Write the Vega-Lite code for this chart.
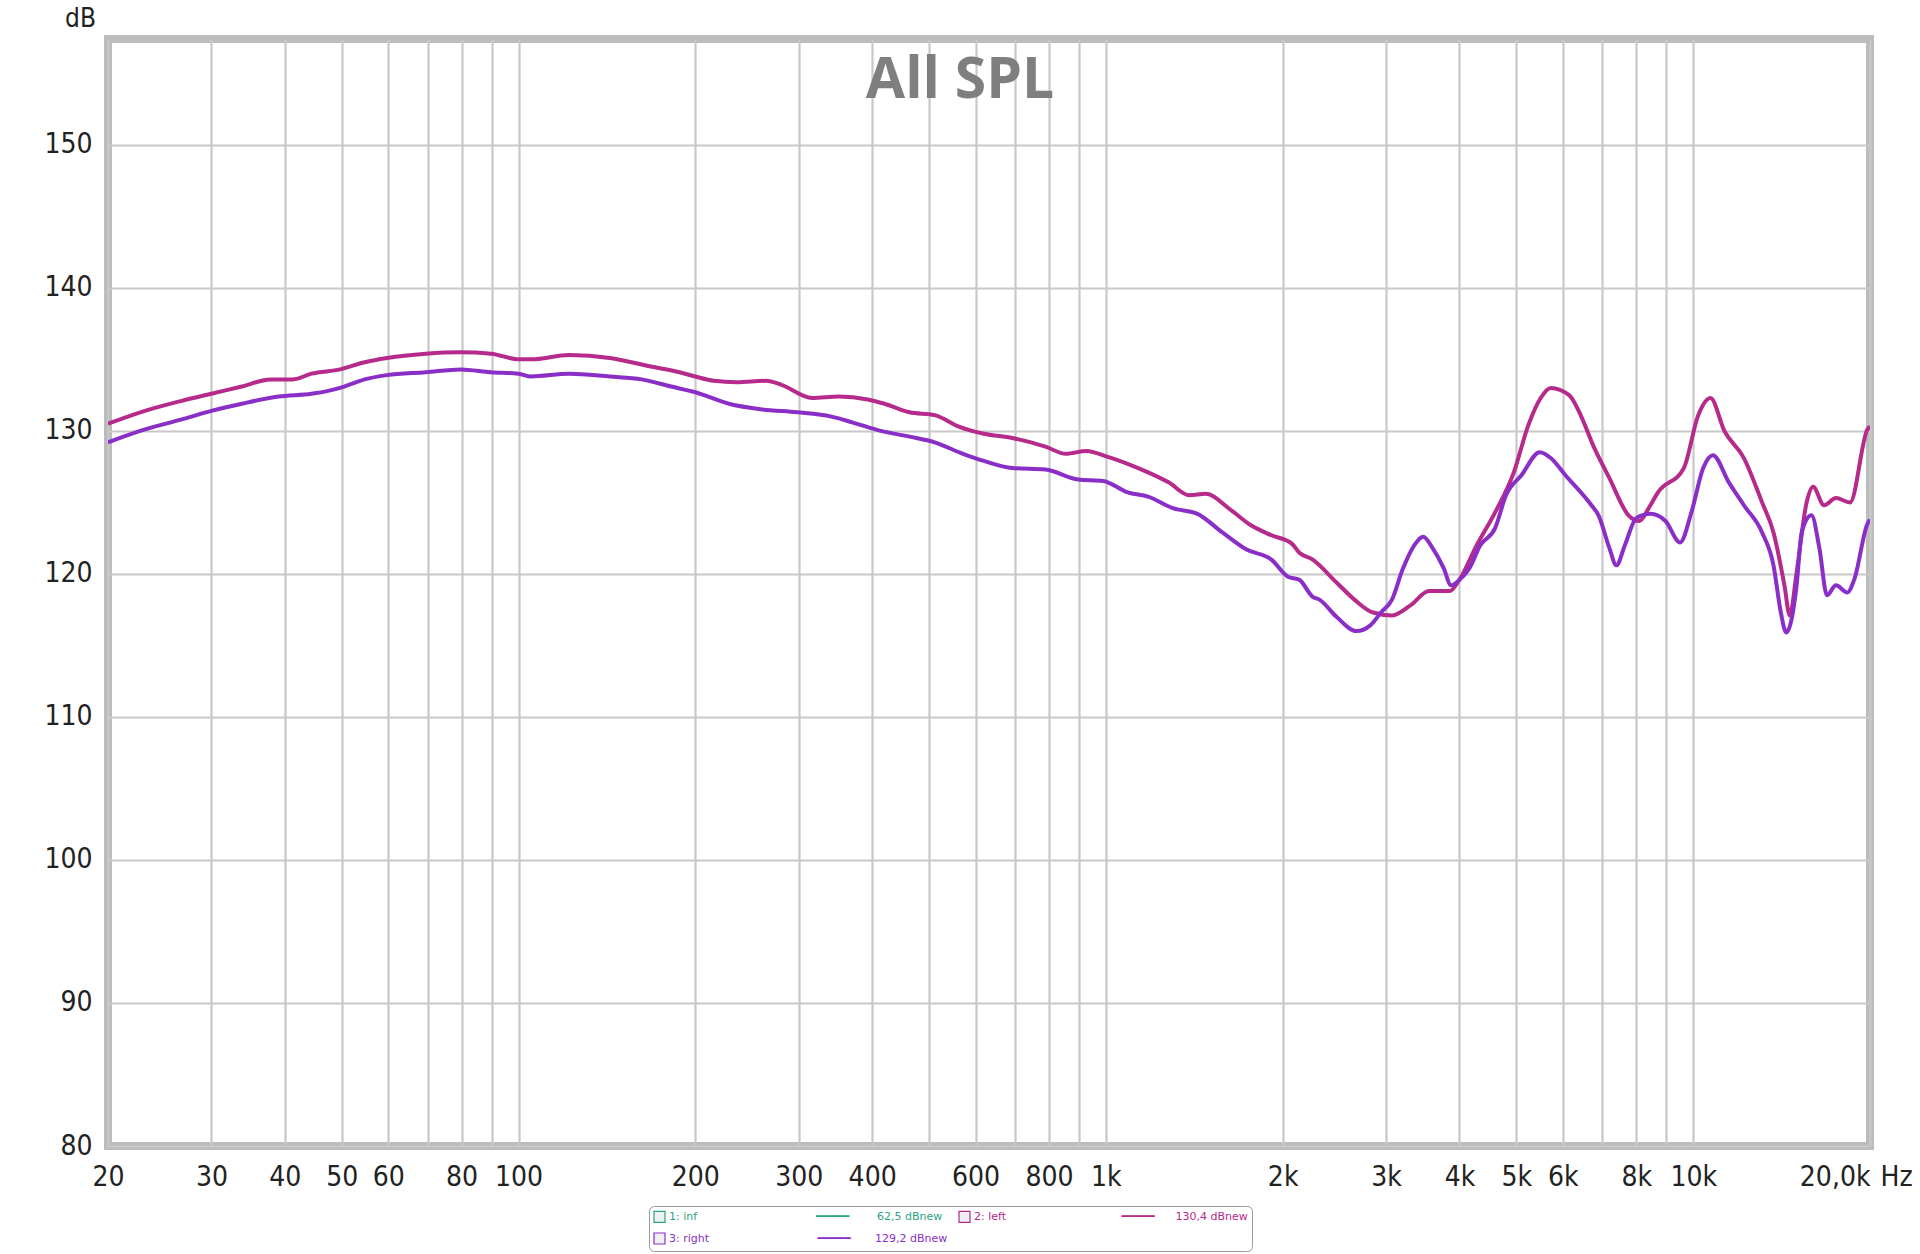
{
  "$schema": "https://vega.github.io/schema/vega-lite/v6.json",
  "width": 1762,
  "height": 1107,
  "autosize": {"type": "none"},
  "padding": {"left": 108, "top": 39, "right": 50, "bottom": 108},
  "background": "#ffffff",
  "config": {
    "view": {"stroke": "#bcbcbc", "strokeWidth": 8},
    "font": "DejaVu Sans Condensed, DejaVu Sans"
  },
  "title": {
    "text": "All SPL",
    "font": "Open Sans",
    "fontSize": 57,
    "fontWeight": "bold",
    "color": "#7f7f7f",
    "anchor": "middle",
    "frame": "group",
    "orient": "top",
    "baseline": "alphabetic",
    "offset": -150,
    "dx": -29
  },
  "datasets": {
    "curves": [
      {"series": "2: left", "f": 20, "db": 130.5},
      {"series": "2: left", "f": 22.7, "db": 131.3},
      {"series": "2: left", "f": 26.7, "db": 132.1},
      {"series": "2: left", "f": 30, "db": 132.6},
      {"series": "2: left", "f": 33.8, "db": 133.1},
      {"series": "2: left", "f": 37.8, "db": 133.6},
      {"series": "2: left", "f": 41.3, "db": 133.6},
      {"series": "2: left", "f": 44.4, "db": 134.0},
      {"series": "2: left", "f": 49.7, "db": 134.3},
      {"series": "2: left", "f": 54.7, "db": 134.8},
      {"series": "2: left", "f": 59.7, "db": 135.1},
      {"series": "2: left", "f": 69.5, "db": 135.4},
      {"series": "2: left", "f": 79.7, "db": 135.5},
      {"series": "2: left", "f": 89.8, "db": 135.4},
      {"series": "2: left", "f": 100, "db": 135.0},
      {"series": "2: left", "f": 105, "db": 135.0},
      {"series": "2: left", "f": 122, "db": 135.3},
      {"series": "2: left", "f": 143, "db": 135.1},
      {"series": "2: left", "f": 168, "db": 134.5},
      {"series": "2: left", "f": 188, "db": 134.1},
      {"series": "2: left", "f": 200, "db": 133.8},
      {"series": "2: left", "f": 215, "db": 133.5},
      {"series": "2: left", "f": 235, "db": 133.4},
      {"series": "2: left", "f": 264, "db": 133.5},
      {"series": "2: left", "f": 281, "db": 133.2},
      {"series": "2: left", "f": 316, "db": 132.3},
      {"series": "2: left", "f": 351, "db": 132.4},
      {"series": "2: left", "f": 393, "db": 132.2},
      {"series": "2: left", "f": 420, "db": 131.9},
      {"series": "2: left", "f": 463, "db": 131.3},
      {"series": "2: left", "f": 511, "db": 131.1},
      {"series": "2: left", "f": 562, "db": 130.3},
      {"series": "2: left", "f": 620, "db": 129.8},
      {"series": "2: left", "f": 693, "db": 129.5},
      {"series": "2: left", "f": 789, "db": 128.9},
      {"series": "2: left", "f": 855, "db": 128.4},
      {"series": "2: left", "f": 927, "db": 128.6},
      {"series": "2: left", "f": 1005, "db": 128.2},
      {"series": "2: left", "f": 1089, "db": 127.7},
      {"series": "2: left", "f": 1180, "db": 127.1},
      {"series": "2: left", "f": 1279, "db": 126.4},
      {"series": "2: left", "f": 1387, "db": 125.5},
      {"series": "2: left", "f": 1479, "db": 125.6},
      {"series": "2: left", "f": 1629, "db": 124.5},
      {"series": "2: left", "f": 1766, "db": 123.4},
      {"series": "2: left", "f": 1914, "db": 122.7},
      {"series": "2: left", "f": 2075, "db": 122.1},
      {"series": "2: left", "f": 2133, "db": 121.5},
      {"series": "2: left", "f": 2250, "db": 121.0},
      {"series": "2: left", "f": 2470, "db": 119.4},
      {"series": "2: left", "f": 2650, "db": 118.2},
      {"series": "2: left", "f": 2850, "db": 117.3},
      {"series": "2: left", "f": 3070, "db": 117.1},
      {"series": "2: left", "f": 3300, "db": 117.8},
      {"series": "2: left", "f": 3550, "db": 118.8},
      {"series": "2: left", "f": 3850, "db": 118.8},
      {"series": "2: left", "f": 4000, "db": 119.6},
      {"series": "2: left", "f": 4280, "db": 122.0},
      {"series": "2: left", "f": 4600, "db": 124.3},
      {"series": "2: left", "f": 4950, "db": 127.1},
      {"series": "2: left", "f": 5240, "db": 130.4},
      {"series": "2: left", "f": 5500, "db": 132.3},
      {"series": "2: left", "f": 5720, "db": 133.0},
      {"series": "2: left", "f": 6150, "db": 132.5},
      {"series": "2: left", "f": 6400, "db": 131.3},
      {"series": "2: left", "f": 6770, "db": 128.9},
      {"series": "2: left", "f": 7200, "db": 126.7},
      {"series": "2: left", "f": 7760, "db": 124.1},
      {"series": "2: left", "f": 8100, "db": 123.7},
      {"series": "2: left", "f": 8400, "db": 124.6},
      {"series": "2: left", "f": 8710, "db": 125.7},
      {"series": "2: left", "f": 9640, "db": 127.4},
      {"series": "2: left", "f": 10200, "db": 131.1},
      {"series": "2: left", "f": 10700, "db": 132.3},
      {"series": "2: left", "f": 11300, "db": 130.0},
      {"series": "2: left", "f": 12200, "db": 128.1},
      {"series": "2: left", "f": 13100, "db": 125.0},
      {"series": "2: left", "f": 13700, "db": 122.9},
      {"series": "2: left", "f": 14300, "db": 119.2},
      {"series": "2: left", "f": 14600, "db": 117.1},
      {"series": "2: left", "f": 15000, "db": 120.1},
      {"series": "2: left", "f": 15600, "db": 125.0},
      {"series": "2: left", "f": 16000, "db": 126.1},
      {"series": "2: left", "f": 16700, "db": 124.8},
      {"series": "2: left", "f": 17500, "db": 125.3},
      {"series": "2: left", "f": 18500, "db": 125.0},
      {"series": "2: left", "f": 19800, "db": 130.1},
      {"series": "2: left", "f": 20000, "db": 130.3},
      {"series": "3: right", "f": 20, "db": 129.2},
      {"series": "3: right", "f": 22.7, "db": 130.0},
      {"series": "3: right", "f": 26.7, "db": 130.8},
      {"series": "3: right", "f": 30, "db": 131.4},
      {"series": "3: right", "f": 33.8, "db": 131.9},
      {"series": "3: right", "f": 39, "db": 132.4},
      {"series": "3: right", "f": 44.4, "db": 132.6},
      {"series": "3: right", "f": 47.4, "db": 132.8},
      {"series": "3: right", "f": 50.5, "db": 133.1},
      {"series": "3: right", "f": 54.7, "db": 133.6},
      {"series": "3: right", "f": 59.7, "db": 133.9},
      {"series": "3: right", "f": 69.5, "db": 134.1},
      {"series": "3: right", "f": 79.7, "db": 134.3},
      {"series": "3: right", "f": 89.8, "db": 134.1},
      {"series": "3: right", "f": 100, "db": 134.0},
      {"series": "3: right", "f": 105, "db": 133.8},
      {"series": "3: right", "f": 122, "db": 134.0},
      {"series": "3: right", "f": 143, "db": 133.8},
      {"series": "3: right", "f": 162, "db": 133.6},
      {"series": "3: right", "f": 182, "db": 133.1},
      {"series": "3: right", "f": 200, "db": 132.7},
      {"series": "3: right", "f": 228, "db": 131.9},
      {"series": "3: right", "f": 260, "db": 131.5},
      {"series": "3: right", "f": 298, "db": 131.3},
      {"series": "3: right", "f": 341, "db": 131.0},
      {"series": "3: right", "f": 370, "db": 130.6},
      {"series": "3: right", "f": 414, "db": 130.0},
      {"series": "3: right", "f": 463, "db": 129.6},
      {"series": "3: right", "f": 511, "db": 129.2},
      {"series": "3: right", "f": 571, "db": 128.4},
      {"series": "3: right", "f": 620, "db": 127.9},
      {"series": "3: right", "f": 693, "db": 127.4},
      {"series": "3: right", "f": 789, "db": 127.3},
      {"series": "3: right", "f": 897, "db": 126.6},
      {"series": "3: right", "f": 989, "db": 126.5},
      {"series": "3: right", "f": 1089, "db": 125.7},
      {"series": "3: right", "f": 1180, "db": 125.4},
      {"series": "3: right", "f": 1300, "db": 124.6},
      {"series": "3: right", "f": 1432, "db": 124.2},
      {"series": "3: right", "f": 1579, "db": 122.9},
      {"series": "3: right", "f": 1736, "db": 121.7},
      {"series": "3: right", "f": 1914, "db": 121.0},
      {"series": "3: right", "f": 2042, "db": 119.8},
      {"series": "3: right", "f": 2133, "db": 119.6},
      {"series": "3: right", "f": 2250, "db": 118.4},
      {"series": "3: right", "f": 2310, "db": 118.2},
      {"series": "3: right", "f": 2470, "db": 117.0},
      {"series": "3: right", "f": 2670, "db": 116.0},
      {"series": "3: right", "f": 2820, "db": 116.4},
      {"series": "3: right", "f": 2940, "db": 117.3},
      {"series": "3: right", "f": 3070, "db": 118.2},
      {"series": "3: right", "f": 3200, "db": 120.3},
      {"series": "3: right", "f": 3350, "db": 122.0},
      {"series": "3: right", "f": 3470, "db": 122.6},
      {"series": "3: right", "f": 3600, "db": 121.8},
      {"series": "3: right", "f": 3760, "db": 120.4},
      {"series": "3: right", "f": 3870, "db": 119.2},
      {"series": "3: right", "f": 3980, "db": 119.5},
      {"series": "3: right", "f": 4160, "db": 120.4},
      {"series": "3: right", "f": 4340, "db": 122.0},
      {"series": "3: right", "f": 4600, "db": 123.2},
      {"series": "3: right", "f": 4800, "db": 125.5},
      {"series": "3: right", "f": 5100, "db": 126.9},
      {"series": "3: right", "f": 5480, "db": 128.5},
      {"series": "3: right", "f": 5720, "db": 128.1},
      {"series": "3: right", "f": 6060, "db": 126.9},
      {"series": "3: right", "f": 6710, "db": 124.8},
      {"series": "3: right", "f": 6900, "db": 124.1},
      {"series": "3: right", "f": 7200, "db": 121.8},
      {"series": "3: right", "f": 7400, "db": 120.6},
      {"series": "3: right", "f": 7650, "db": 122.0},
      {"series": "3: right", "f": 8000, "db": 123.9},
      {"series": "3: right", "f": 8460, "db": 124.2},
      {"series": "3: right", "f": 8970, "db": 123.7},
      {"series": "3: right", "f": 9500, "db": 122.2},
      {"series": "3: right", "f": 9930, "db": 124.3},
      {"series": "3: right", "f": 10400, "db": 127.4},
      {"series": "3: right", "f": 10800, "db": 128.3},
      {"series": "3: right", "f": 11500, "db": 126.4},
      {"series": "3: right", "f": 12200, "db": 124.8},
      {"series": "3: right", "f": 13100, "db": 122.9},
      {"series": "3: right", "f": 13700, "db": 120.6},
      {"series": "3: right", "f": 14100, "db": 117.3},
      {"series": "3: right", "f": 14400, "db": 115.9},
      {"series": "3: right", "f": 15000, "db": 119.2},
      {"series": "3: right", "f": 15300, "db": 122.9},
      {"series": "3: right", "f": 15900, "db": 124.1},
      {"series": "3: right", "f": 16400, "db": 121.8},
      {"series": "3: right", "f": 16900, "db": 118.5},
      {"series": "3: right", "f": 17500, "db": 119.2},
      {"series": "3: right", "f": 18300, "db": 118.7},
      {"series": "3: right", "f": 18800, "db": 119.6},
      {"series": "3: right", "f": 19800, "db": 123.5},
      {"series": "3: right", "f": 20000, "db": 123.8}
    ]
  },
  "data": {"name": "curves"},
  "mark": {"type": "line", "strokeWidth": 4, "interpolate": "monotone", "clip": true},
  "encoding": {
    "x": {
      "field": "f",
      "type": "quantitative",
      "scale": {"type": "log", "domain": [20, 20000], "nice": false},
      "axis": {
        "title": "Hz",
        "titleFontSize": 28,
        "titleFontWeight": "normal",
        "titleColor": "#222222",
        "titleAnchor": "end",
        "titleAlign": "left",
        "titleBaseline": "middle",
        "titleX": 1772,
        "titleY": 31,
        "values": [20, 30, 40, 50, 60, 70, 80, 90, 100, 200, 300, 400, 500, 600, 700, 800, 900, 1000, 2000, 3000, 4000, 5000, 6000, 7000, 8000, 9000, 10000, 20000],
        "labelExpr": "indexof([70,90,500,700,900,7000,9000], datum.value) >= 0 ? '' : datum.value == 20000 ? '20,0k' : datum.value >= 1000 ? (datum.value/1000) + 'k' : '' + datum.value",
        "labelAlign": {"condition": {"test": "datum.value == 20000", "value": "right"}, "value": "center"},
        "labelFontSize": 28,
        "labelColor": "#222222",
        "labelPadding": 31,
        "labelBaseline": "middle",
        "labelOverlap": false,
        "labelFlush": false,
        "ticks": false,
        "domain": false,
        "grid": true,
        "gridColor": "#c8c8c8",
        "gridWidth": 2.2
      }
    },
    "y": {
      "field": "db",
      "type": "quantitative",
      "scale": {"domain": [80, 157.4], "nice": false, "zero": false},
      "axis": {
        "title": "dB",
        "titleAngle": 0,
        "titleFontSize": 26,
        "titleFontWeight": "normal",
        "titleColor": "#222222",
        "titleAlign": "center",
        "titleBaseline": "alphabetic",
        "titleX": -28,
        "titleY": -13,
        "values": [80, 90, 100, 110, 120, 130, 140, 150],
        "labelFontSize": 28,
        "labelColor": "#222222",
        "labelPadding": 16,
        "labelBaseline": "middle",
        "labelFlush": false,
        "labelOverlap": false,
        "ticks": false,
        "domain": false,
        "grid": true,
        "gridColor": "#c8c8c8",
        "gridWidth": 2.2
      }
    },
    "color": {
      "field": "series",
      "type": "nominal",
      "scale": {"domain": ["1: inf", "2: left", "3: right"], "range": ["#2aa57f", "#b52a8a", "#8a2ec8"]},
      "legend": {
        "orient": "none",
        "legendX": 541,
        "legendY": 1167,
        "direction": "horizontal",
        "columns": 2,
        "title": null,
        "symbolType": "square",
        "symbolSize": 121,
        "labelFontSize": 11,
        "labelFont": "DejaVu Sans",
        "labelOffset": 3,
        "labelLimit": 400,
        "columnPadding": 8,
        "rowPadding": 5,
        "padding": 4,
        "strokeColor": "#9a9a9a",
        "cornerRadius": 5,
        "fillColor": "#ffffff",
        "labelExpr": "datum.label == '1: inf' ? '1: inf\u00a0\u00a0\u00a0\u00a0\u00a0\u00a0\u00a0\u00a0\u00a0\u00a0\u00a0\u00a0\u00a0\u00a0\u00a0\u00a0\u00a0\u00a0\u00a0\u00a0\u00a0\u00a0\u00a0\u00a0\u00a0\u00a0\u00a0\u00a0\u00a0\u00a0\u00a0\u00a0\u00a0\u00a0\u2501\u2501\u2501\u2501\u2501\u00a0\u00a0\u00a0\u00a0\u00a0\u00a0\u00a0\u00a062,5 dBnew' : datum.label == '2: left' ? '2: left\u00a0\u00a0\u00a0\u00a0\u00a0\u00a0\u00a0\u00a0\u00a0\u00a0\u00a0\u00a0\u00a0\u00a0\u00a0\u00a0\u00a0\u00a0\u00a0\u00a0\u00a0\u00a0\u00a0\u00a0\u00a0\u00a0\u00a0\u00a0\u00a0\u00a0\u00a0\u00a0\u00a0\u2501\u2501\u2501\u2501\u2501\u00a0\u00a0\u00a0\u00a0\u00a0\u00a0130,4 dBnew' : '3: right\u00a0\u00a0\u00a0\u00a0\u00a0\u00a0\u00a0\u00a0\u00a0\u00a0\u00a0\u00a0\u00a0\u00a0\u00a0\u00a0\u00a0\u00a0\u00a0\u00a0\u00a0\u00a0\u00a0\u00a0\u00a0\u00a0\u00a0\u00a0\u00a0\u00a0\u00a0\u2501\u2501\u2501\u2501\u2501\u00a0\u00a0\u00a0\u00a0\u00a0\u00a0\u00a0129,2 dBnew'",
        "encode": {
          "labels": {"update": {"fill": {"scale": "color", "field": "value"}}},
          "symbols": {"update": {"shape": {"value": "square"}, "fill": {"value": "#eef0f6"}, "fillOpacity": {"value": 1}, "stroke": {"value": "#7d7d7d"}, "strokeWidth": {"value": 1.2}}}
        }
      }
    }
  }
}
